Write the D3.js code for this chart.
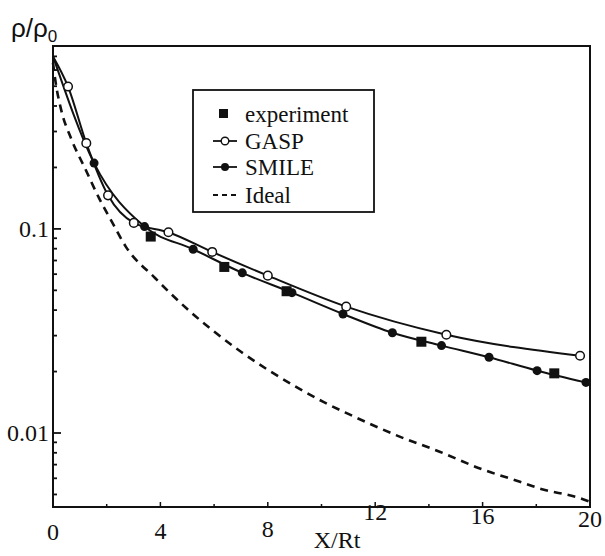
<!DOCTYPE html>
<html><head><meta charset="utf-8">
<script src="https://cdn.jsdelivr.net/npm/d3@7"></script>
<style>body{margin:0;background:#fff} svg{display:block}</style>
</head><body>
<svg id="c" width="605" height="556"></svg>
<script>
// ---- data ----
const xTickLabels = [0, 4, 8, 12, 16, 20];
const yTickLabels = [0.01, 0.1];
const legendLabels = ["experiment", "GASP", "SMILE", "Ideal"];

const expX = [3.64, 6.38, 8.7, 13.72, 18.67];
const expY = [0.0917, 0.0651, 0.0495, 0.0280, 0.0196];

const gaspX = [0.56, 1.24, 2.05, 3.01, 4.30, 5.93, 8.0, 10.92, 14.65, 19.63];
const gaspY = [0.498, 0.263, 0.146, 0.107, 0.0963, 0.0771, 0.0590, 0.0416, 0.0303, 0.0239];

const smileX = [1.53, 3.41, 5.22, 7.05, 8.9, 10.8, 12.64, 14.47, 16.24, 18.03, 19.85];
const smileY = [0.210, 0.1026, 0.0795, 0.0609, 0.0487, 0.0383, 0.0310, 0.0268, 0.0235, 0.0202, 0.0177];

const startX = 0, startY = 0.70;

const idealX = [0, 0.1, 0.3, 0.68, 1.2, 1.72, 2.2, 2.71, 3.81, 5, 6, 7, 8, 9, 10.07, 11, 12.91, 14.4, 15.9, 17.39, 18.1, 19.63, 20];
const idealY = [0.65, 0.52, 0.385, 0.276, 0.197, 0.141, 0.108, 0.0819, 0.0573, 0.0405, 0.0314, 0.0250, 0.0204, 0.0170, 0.0142, 0.0124, 0.0096, 0.0081, 0.0067, 0.00577, 0.00536, 0.00479, 0.0046];

// ---- layout ----
const L = 53, R = 590, T = 46, B = 507;
const ink = "#111";
const svg = d3.select("#c");
const x = d3.scaleLinear().domain([0, 20]).range([L, R]);
const y = d3.scaleLog().domain([0.00434, 0.787]).range([B, T]);

// frame
svg.append("rect").attr("x", L).attr("y", T).attr("width", R - L).attr("height", B - T)
  .attr("fill", "none").attr("stroke", ink).attr("stroke-width", 2);

// y ticks (inward)
const yMinor = y.ticks(20).filter(v => v > y.domain()[0] && v < y.domain()[1]);
svg.append("g").selectAll("line").data(yMinor).join("line")
  .attr("x1", L).attr("x2", d => L + (yTickLabels.includes(d) ? 8 : 4))
  .attr("y1", d => y(d)).attr("y2", d => y(d))
  .attr("stroke", ink).attr("stroke-width", 1.8);
svg.append("g").selectAll("text").data(yTickLabels).join("text")
  .attr("x", L - 4).attr("y", d => y(d)).attr("dy", "0.35em")
  .attr("text-anchor", "end")
  .attr("font-family", "Liberation Serif, serif").attr("font-size", 24).attr("fill", ink)
  .text(d => d3.format("")(d));

// x ticks (inward)
const xMinor = d3.range(0, 21, 2);
svg.append("g").selectAll("line").data(xMinor).join("line")
  .attr("x1", d => x(d)).attr("x2", d => x(d))
  .attr("y1", B).attr("y2", d => B - (d % 4 === 0 ? 5 : 3))
  .attr("stroke", ink).attr("stroke-width", 1.5);
const xLabelShift = {0: 33, 4: 32, 8: 30, 12: 13, 16: 17, 20: 20};
svg.append("g").selectAll("text").data(xTickLabels).join("text")
  .attr("x", d => x(d)).attr("y", d => B + xLabelShift[d])
  .attr("text-anchor", "middle")
  .attr("font-family", "Liberation Serif, serif").attr("font-size", 24).attr("fill", ink)
  .text(d => d);

// axis titles
svg.append("text").attr("x", 337).attr("y", 548).attr("text-anchor", "middle")
  .attr("font-family", "Liberation Serif, serif").attr("font-size", 24).attr("fill", ink)
  .text("X/Rt");
const yt = svg.append("text").attr("x", 11).attr("y", 37)
  .attr("font-family", "Liberation Sans, Arial, sans-serif").attr("font-size", 26).attr("fill", ink);
yt.append("tspan").text("ρ/ρ");
yt.append("tspan").attr("font-size", 17).attr("dy", 5).text("0");

// lines
const line = d3.line().x(d => x(d[0])).y(d => y(d[1])).curve(d3.curveMonotoneX);
const gaspPts = [[startX, startY]].concat(gaspX.map((v, i) => [v, gaspY[i]]));
const smilePts = [[startX, startY]].concat(smileX.map((v, i) => [v, smileY[i]]));
const idealPts = idealX.map((v, i) => [v, idealY[i]]);

svg.append("path").attr("d", line(idealPts)).attr("fill", "none")
  .attr("stroke", ink).attr("stroke-width", 2.6).attr("stroke-dasharray", "8,6");
svg.append("path").attr("d", line(gaspPts)).attr("fill", "none")
  .attr("stroke", ink).attr("stroke-width", 2);
svg.append("path").attr("d", line(smilePts)).attr("fill", "none")
  .attr("stroke", ink).attr("stroke-width", 2);

// markers
svg.append("g").selectAll("circle").data(gaspX).join("circle")
  .attr("cx", d => x(d)).attr("cy", (d, i) => y(gaspY[i])).attr("r", 4.3)
  .attr("fill", "#fff").attr("stroke", ink).attr("stroke-width", 1.5);
svg.append("g").selectAll("circle").data(smileX).join("circle")
  .attr("cx", d => x(d)).attr("cy", (d, i) => y(smileY[i])).attr("r", 4.5)
  .attr("fill", ink);
svg.append("g").selectAll("rect").data(expX).join("rect")
  .attr("x", d => x(d) - 5).attr("y", (d, i) => y(expY[i]) - 5)
  .attr("width", 10).attr("height", 10).attr("fill", ink);

// legend
const lg = svg.append("g");
lg.append("rect").attr("x", 193).attr("y", 90).attr("width", 181).attr("height", 122)
  .attr("fill", "#fff").attr("stroke", ink).attr("stroke-width", 1.8);
const rowY = [114, 141, 167, 195];
lg.selectAll("text").data(legendLabels).join("text")
  .attr("x", 245).attr("y", (d, i) => rowY[i]).attr("dy", "0.35em")
  .attr("font-family", "Liberation Serif, serif").attr("font-size", 23).attr("fill", ink)
  .text(d => d);
lg.append("rect").attr("x", 219).attr("y", rowY[0] - 5).attr("width", 9).attr("height", 9).attr("fill", ink);
lg.append("line").attr("x1", 213).attr("x2", 237).attr("y1", rowY[1]).attr("y2", rowY[1]).attr("stroke", ink).attr("stroke-width", 1.8);
lg.append("circle").attr("cx", 225).attr("cy", rowY[1]).attr("r", 3.8).attr("fill", "#fff").attr("stroke", ink).attr("stroke-width", 1.4);
lg.append("line").attr("x1", 213).attr("x2", 237).attr("y1", rowY[2]).attr("y2", rowY[2]).attr("stroke", ink).attr("stroke-width", 1.8);
lg.append("circle").attr("cx", 225).attr("cy", rowY[2]).attr("r", 4).attr("fill", ink);
lg.append("line").attr("x1", 213).attr("x2", 238).attr("y1", rowY[3]).attr("y2", rowY[3]).attr("stroke", ink).attr("stroke-width", 2).attr("stroke-dasharray", "5,4");
</script>
</body></html>
